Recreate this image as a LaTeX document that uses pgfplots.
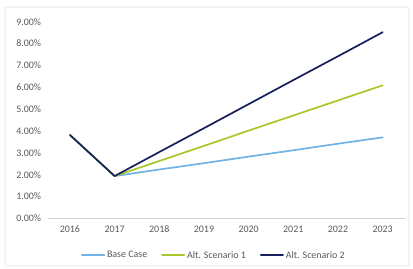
\documentclass[border=0pt]{standalone}
\usepackage{pgfplots}
\pgfplotsset{compat=1.18}
\usepackage{fontspec}
\setmainfont{Carlito}
\definecolor{txt}{RGB}{89,89,89}
\definecolor{cbase}{RGB}{112,178,228}
\definecolor{calt1}{RGB}{166,200,40}
\definecolor{calt2}{RGB}{22,32,92}
\begin{document}
\begin{tikzpicture}[x=1bp,y=1bp]
\useasboundingbox (0,0) rectangle (413,269);
\draw[black!12, line width=0.6bp, rounded corners=2bp] (5,3) rectangle (409,262);
\begin{axis}[
  at={(47.6bp,50.5bp)}, anchor=origin,
  scale only axis, width=357.4bp, height=196.8bp,
  xmin=2015.5, xmax=2023.5, ymin=0, ymax=9,
  axis x line=bottom, axis y line=left,
  x axis line style={-, black!18, line width=0.7bp},
  y axis line style={draw=none},
  xtick={2016,...,2023}, ytick={0,1,...,9},
  x tick label style={/pgf/number format/1000 sep={}},
  xticklabel style={yshift=-4bp},
  major tick length=0pt,
  yticklabel={\pgfmathprintnumber[fixed,fixed zerofill,precision=2]{\tick}\%},
  yticklabel style={xshift=-3bp},
  /pgf/number format/assume math mode=true,
  ticklabel style={font=\fontsize{10}{12}\selectfont, text=txt},
  legend style={at={(0.4656,-0.187)}, anchor=center, draw=none, fill=none,
    legend columns=3, font=\fontsize{10}{12}\selectfont, text=txt,
    /tikz/every even column/.append style={column sep=12bp}},
  legend image code/.code={\draw[#1, line width=1.8bp] (0bp,0bp) -- (22bp,0bp);},
  every axis plot/.append style={line width=1.7bp, line join=round, line cap=round},
  clip=false,
]
\addplot[cbase] coordinates {(2016,3.82) (2017,1.94) (2018,2.24) (2019,2.53) (2020,2.83) (2021,3.12) (2022,3.42) (2023,3.71)};
\addplot[calt1] coordinates {(2016,3.82) (2017,1.94) (2018,2.63) (2019,3.32) (2020,4.02) (2021,4.71) (2022,5.40) (2023,6.09)};
\addplot[calt2] coordinates {(2016,3.82) (2017,1.94) (2018,3.04) (2019,4.13) (2020,5.23) (2021,6.33) (2022,7.42) (2023,8.52)};
\legend{Base Case, Alt. Scenario 1, Alt. Scenario 2}
\end{axis}
\end{tikzpicture}
\end{document}
